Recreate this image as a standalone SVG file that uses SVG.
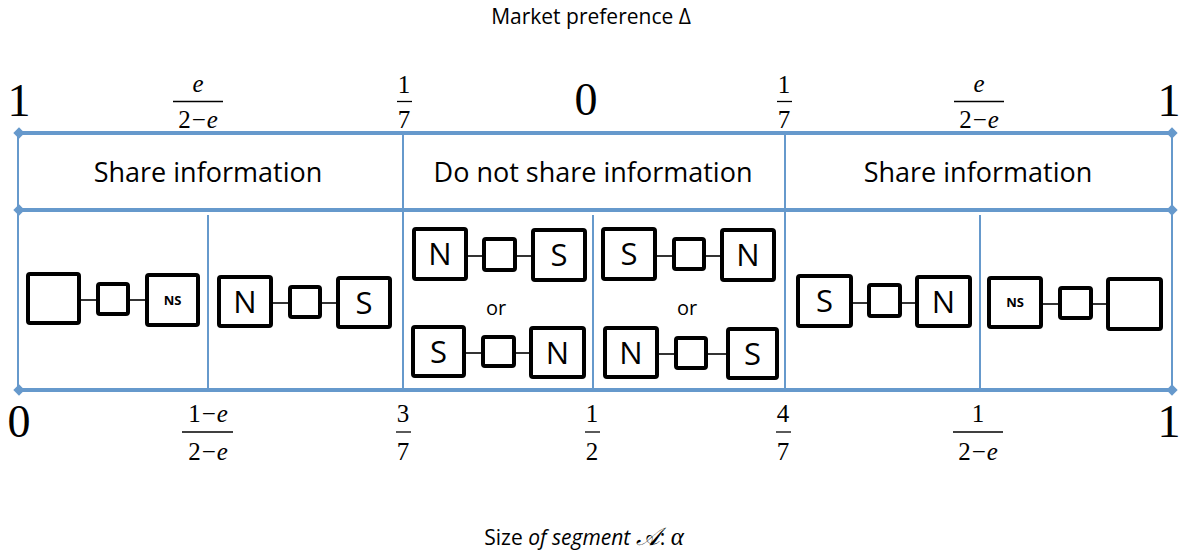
<svg xmlns="http://www.w3.org/2000/svg" width="1182" height="550" viewBox="0 0 1182 550">
<style>
.ax{stroke:#6699CC;stroke-width:4;fill:none}
.vl{stroke:#6699CC;stroke-width:2;fill:none}
.bx{fill:#fff;stroke:#000;stroke-width:4}
.cn{stroke:#000;stroke-width:1.6}
.lt{font-family:"Open Sans","Liberation Sans",sans-serif;font-size:31px;fill:#000;text-anchor:middle}
.ns{font-family:"Open Sans","Liberation Sans",sans-serif;font-size:13px;font-weight:bold;fill:#000;text-anchor:middle}
.or{font-family:"Open Sans","Liberation Sans",sans-serif;font-size:20px;fill:#000;text-anchor:middle}
.hd{font-family:"Open Sans","Liberation Sans",sans-serif;font-size:27px;fill:#000;text-anchor:middle}
.ti{font-family:"Open Sans","Liberation Sans",sans-serif;font-size:21px;fill:#000;text-anchor:middle}
.big{font-family:"Liberation Serif","Times New Roman",serif;font-size:46px;fill:#000;text-anchor:middle}
.fr{font-family:"Liberation Serif","Times New Roman",serif;font-size:25px;fill:#000;text-anchor:middle}
.it{font-style:italic}
.fl{stroke:#000;stroke-width:1.3}
</style>
<defs>
<marker id="dia" viewBox="-6 -6 12 12" markerWidth="3.4" markerHeight="3.4" refX="0" refY="0" markerUnits="strokeWidth" orient="auto">
<path d="M-5 0L0 -5L5 0L0 5Z" fill="#6699CC"/>
</marker>
</defs>
<rect width="1182" height="550" fill="#fff"/>
<text class="ti" x="591" y="24">Market preference Δ</text>
<text class="ti" x="584" y="545" font-size="22px">Size <tspan font-style="italic">of segment </tspan><tspan font-family="'DejaVu Sans',sans-serif" font-style="italic" font-size="25px">𝒜</tspan>: <tspan font-family="'Liberation Serif',serif" font-style="italic" font-size="25px">α</tspan></text>
<g id="frame">
<line class="vl" x1="18" y1="133" x2="18" y2="390"/>
<line class="vl" x1="403" y1="133" x2="403" y2="390"/>
<line class="vl" x1="785" y1="133" x2="785" y2="390"/>
<line class="vl" x1="1172" y1="133" x2="1172" y2="390"/>
<line class="vl" x1="208" y1="215" x2="208" y2="388"/>
<line class="vl" x1="593" y1="215" x2="593" y2="388"/>
<line class="vl" x1="980" y1="215" x2="980" y2="388"/>
<line class="ax" x1="19" y1="133" x2="1172" y2="133" marker-start="url(#dia)" marker-end="url(#dia)"/>
<line class="ax" x1="19" y1="210" x2="1172" y2="210" marker-start="url(#dia)" marker-end="url(#dia)"/>
<line class="ax" x1="19" y1="390" x2="1172" y2="390" marker-start="url(#dia)" marker-end="url(#dia)"/>
</g>
<g id="top-labels">
<text class="big" x="19" y="116">1</text>
<text class="big" x="586" y="115">0</text>
<text class="big" x="1169" y="116">1</text>
<text class="fr it" x="198" y="92">e</text>
<line class="fl" x1="173" y1="101.5" x2="223" y2="101.5"/>
<text class="fr" x="198" y="128">2<tspan dx="1">−</tspan><tspan class="it" dx="1">e</tspan></text>
<text class="fr" x="404" y="93">1</text>
<line class="fl" x1="397" y1="101.5" x2="412" y2="101.5"/>
<text class="fr" x="404" y="128">7</text>
<text class="fr" x="784" y="93">1</text>
<line class="fl" x1="777" y1="101.5" x2="792" y2="101.5"/>
<text class="fr" x="784" y="128">7</text>
<text class="fr it" x="979" y="92">e</text>
<line class="fl" x1="954" y1="101.5" x2="1004" y2="101.5"/>
<text class="fr" x="979" y="128">2<tspan dx="1">−</tspan><tspan class="it" dx="1">e</tspan></text>
</g>
<g id="bottom-labels">
<text class="big" x="19" y="437">0</text>
<text class="big" x="1169" y="437">1</text>
<text class="fr" x="208" y="422">1<tspan dx="1">−</tspan><tspan class="it" dx="1">e</tspan></text>
<line class="fl" x1="182" y1="432" x2="233" y2="432"/>
<text class="fr" x="208" y="460">2<tspan dx="1">−</tspan><tspan class="it" dx="1">e</tspan></text>
<text class="fr" x="403" y="422">3</text>
<line class="fl" x1="396" y1="432" x2="411" y2="432"/>
<text class="fr" x="403" y="460">7</text>
<text class="fr" x="592" y="422">1</text>
<line class="fl" x1="585" y1="432" x2="600" y2="432"/>
<text class="fr" x="592" y="460">2</text>
<text class="fr" x="783" y="422">4</text>
<line class="fl" x1="776" y1="432" x2="791" y2="432"/>
<text class="fr" x="783" y="460">7</text>
<text class="fr" x="978" y="422">1</text>
<line class="fl" x1="953" y1="432" x2="1003" y2="432"/>
<text class="fr" x="978" y="460">2<tspan dx="1">−</tspan><tspan class="it" dx="1">e</tspan></text>
</g>
<g id="headers">
<text class="hd" x="208" y="182">Share information</text>
<text class="hd" x="593" y="182">Do not share information</text>
<text class="hd" x="978" y="182">Share information</text>
</g>
<g id="connectors">
<line class="cn" x1="81" y1="300" x2="96" y2="300"/>
<line class="cn" x1="130" y1="300" x2="145" y2="300"/>
<line class="cn" x1="273" y1="303" x2="288" y2="303"/>
<line class="cn" x1="322" y1="303" x2="336" y2="303"/>
<line class="cn" x1="468" y1="256" x2="482" y2="256"/>
<line class="cn" x1="517" y1="256" x2="531" y2="256"/>
<line class="cn" x1="466" y1="353" x2="481" y2="353"/>
<line class="cn" x1="516" y1="353" x2="529" y2="353"/>
<line class="cn" x1="657" y1="256" x2="672" y2="256"/>
<line class="cn" x1="706" y1="256" x2="720" y2="256"/>
<line class="cn" x1="659" y1="354" x2="674" y2="354"/>
<line class="cn" x1="708" y1="354" x2="726" y2="354"/>
<line class="cn" x1="853" y1="303" x2="867" y2="303"/>
<line class="cn" x1="902" y1="303" x2="915" y2="303"/>
<line class="cn" x1="1043" y1="304" x2="1058" y2="304"/>
<line class="cn" x1="1093" y1="304" x2="1106" y2="304"/>
</g>
<g id="cell-l1">
<g id="l1-a"><rect class="bx" x="28" y="274" width="51" height="49" rx="2"/></g>
<g id="l1-m"><rect class="bx" x="98" y="284" width="30" height="30" rx="2"/></g>
<g id="l1-b"><rect class="bx" x="147" y="275" width="51" height="50" rx="2"/><text class="ns" x="172.5" y="305">NS</text></g>
</g>
<g id="cell-l2">
<g id="l2-a"><rect class="bx" x="219" y="277" width="52" height="49" rx="2"/><text class="lt" x="245" y="313">N</text></g>
<g id="l2-m"><rect class="bx" x="290" y="287" width="30" height="30" rx="2"/></g>
<g id="l2-b"><rect class="bx" x="338" y="278" width="52" height="49" rx="2"/><text class="lt" x="364" y="314">S</text></g>
</g>
<g id="cell-m1">
<g id="m1-a"><rect class="bx" x="414" y="229" width="52" height="50" rx="2"/><text class="lt" x="440" y="265">N</text></g>
<g id="m1-m"><rect class="bx" x="484" y="239" width="31" height="31" rx="2"/></g>
<g id="m1-b"><rect class="bx" x="533" y="230" width="52" height="50" rx="2"/><text class="lt" x="559" y="266">S</text></g>
<text class="or" x="496" y="315">or</text>
<g id="m1-c"><rect class="bx" x="413" y="327" width="51" height="49" rx="2"/><text class="lt" x="438.5" y="363">S</text></g>
<g id="m1-n"><rect class="bx" x="483" y="337" width="31" height="29" rx="2"/></g>
<g id="m1-d"><rect class="bx" x="531" y="328" width="53" height="49" rx="2"/><text class="lt" x="557.5" y="364">N</text></g>
</g>
<g id="cell-m2">
<g id="m2-a"><rect class="bx" x="603" y="229" width="52" height="50" rx="2"/><text class="lt" x="629" y="265">S</text></g>
<g id="m2-m"><rect class="bx" x="674" y="239" width="30" height="30" rx="2"/></g>
<g id="m2-b"><rect class="bx" x="722" y="230" width="52" height="50" rx="2"/><text class="lt" x="748" y="266">N</text></g>
<text class="or" x="687" y="315">or</text>
<g id="m2-c"><rect class="bx" x="605" y="328" width="52" height="49" rx="2"/><text class="lt" x="631" y="364">N</text></g>
<g id="m2-n"><rect class="bx" x="676" y="338" width="30" height="30" rx="2"/></g>
<g id="m2-d"><rect class="bx" x="728" y="329" width="49" height="49" rx="2"/><text class="lt" x="752.5" y="365">S</text></g>
</g>
<g id="cell-r1">
<g id="r1-a"><rect class="bx" x="798" y="276" width="53" height="50" rx="2"/><text class="lt" x="824.5" y="312">S</text></g>
<g id="r1-m"><rect class="bx" x="869" y="285" width="31" height="31" rx="2"/></g>
<g id="r1-b"><rect class="bx" x="917" y="277" width="53" height="49" rx="2"/><text class="lt" x="943.5" y="313">N</text></g>
</g>
<g id="cell-r2">
<g id="r2-a"><rect class="bx" x="989" y="278" width="52" height="49" rx="2"/><text class="ns" x="1015" y="307">NS</text></g>
<g id="r2-m"><rect class="bx" x="1060" y="288" width="31" height="30" rx="2"/></g>
<g id="r2-b"><rect class="bx" x="1108" y="279" width="53" height="50" rx="2"/></g>
</g>
</svg>
